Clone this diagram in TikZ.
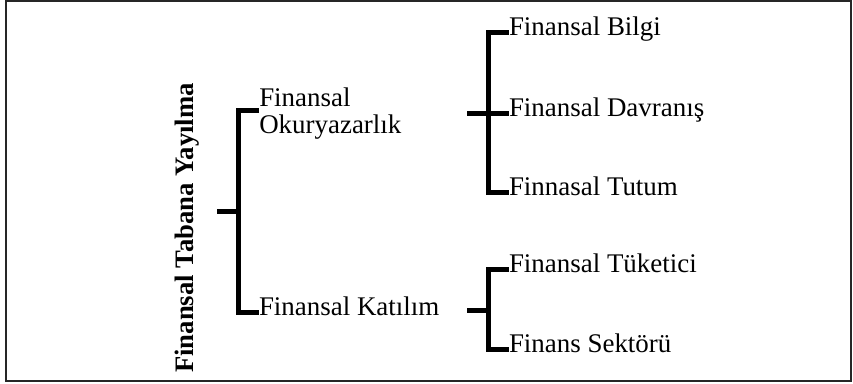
\documentclass[tikz,border=0pt]{standalone}
\usepackage{fontspec}
\setmainfont{Liberation Serif}
\begin{document}
\begin{tikzpicture}[x=0.75pt,y=-0.75pt,
  br/.style={line width=3.75pt,line join=miter,black},
  frame/.style={line width=1.5pt,draw=black!85},
  lbl/.style={inner sep=0pt,outer sep=0pt,font=\fontsize{20.2}{20.25}\selectfont,text height=0.7em,text depth=0.25em,anchor=west},
  root/.style={inner sep=0pt,font=\fontsize{20}{22}\selectfont\bfseries,rotate=90,anchor=base}]
\useasboundingbox (0,0) rectangle (853,383);
\draw[frame] (6,1) rectangle (851,381);
% root
\node[root] (root) at (193,228) {Finansal Tabana Yayılma};
% level 1
\node[inner sep=0pt,font=\fontsize{20.2}{20.25}\selectfont,align=left,anchor=base west] (ok) at (259,133) {Finansal\\Okuryazarlık};
\coordinate (okc) at (259,110);
\node[lbl] (kat) at (259,312) {Finansal Katılım};
% level 2
\node[lbl] (bilgi) at (509,32) {Finansal Bilgi};
\node[lbl] (davr) at (509,113) {Finansal Davranış};
\node[lbl] (tutum) at (509,192) {Finnasal Tutum};
\node[lbl] (tuk) at (509,269) {Finansal Tüketici};
\node[lbl] (sek) at (509,349) {Finans Sektörü};
% junctions
\coordinate (s1) at (217,211);
\coordinate (v1) at (238,211);
\coordinate (s2) at (467,113);
\coordinate (v2) at (488,113);
\coordinate (s3) at (467,310);
\coordinate (v3) at (488,310);
% brackets
\draw[br] (okc) -| (v1) |- (kat.west);
\draw[br] (s1) -- (v1);
\draw[br] (bilgi.west) -| (v2) |- (tutum.west);
\draw[br] (s2) -- (davr.west);
\draw[br] (tuk.west) -| (v3) |- (sek.west);
\draw[br] (s3) -- (v3);
\end{tikzpicture}
\end{document}
